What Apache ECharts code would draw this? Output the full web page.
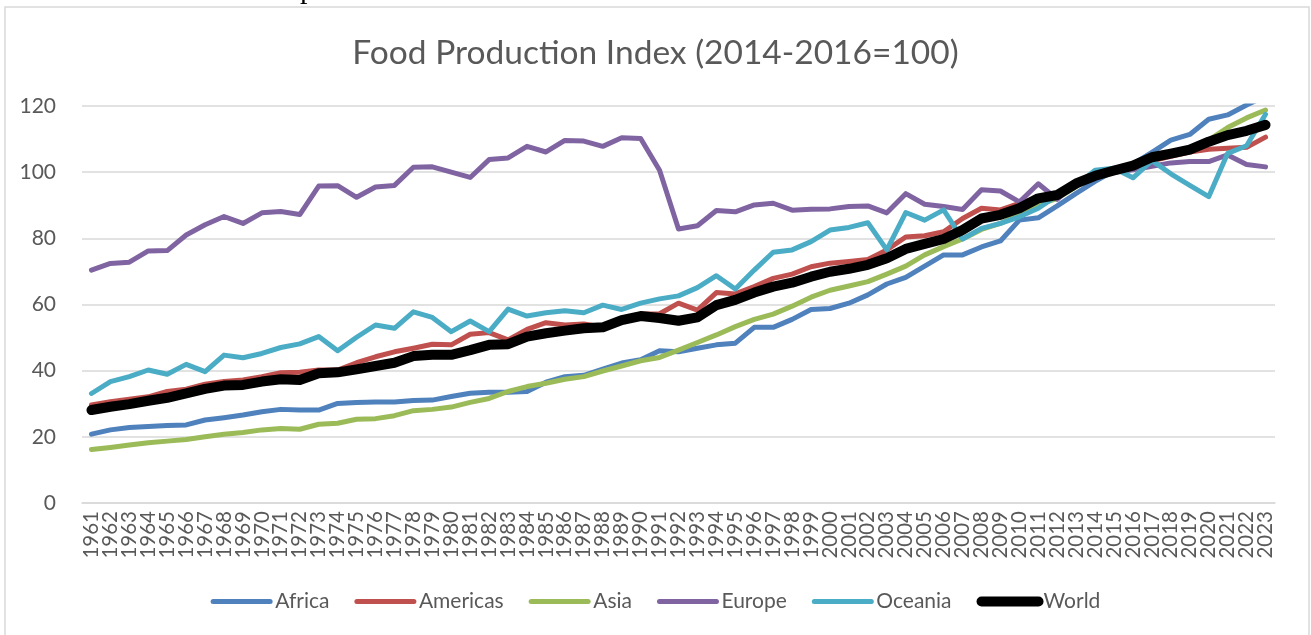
<!DOCTYPE html>
<html>
<head>
<meta charset="utf-8">
<script src="https://cdn.jsdelivr.net/npm/echarts@6/dist/echarts.min.js"></script>
<style>
html,body{margin:0;padding:0;background:#fff;}
#c{width:1311px;height:635px;}
</style>
</head>
<body>
<div id="c"></div>
<script>
const years = [];
for (let y = 1961; y <= 2023; y++) years.push(String(y));

const africa = [20.8,22.1,22.8,23.1,23.4,23.6,25.1,25.8,26.6,27.6,
28.3,28.1,28.1,30.1,30.4,30.5,30.5,31.0,31.1,32.2,
33.2,33.5,33.5,33.7,36.5,38.2,38.6,40.5,42.3,43.3,
46.0,45.7,46.8,47.8,48.3,53.1,53.1,55.5,58.5,58.8,
60.4,62.9,66.2,68.2,71.6,75.0,75.0,77.4,79.2,85.5,
86.2,89.8,93.6,97.2,100.4,102.4,106.0,109.7,111.4,116.0,
117.3,120.3,123.0];

const americas = [29.6,30.6,31.4,32.1,33.7,34.4,35.9,36.7,37.2,38.2,
39.4,39.5,40.2,40.2,42.4,44.2,45.7,46.8,48.0,47.8,
51.0,51.5,49.3,52.5,54.5,53.8,54.1,53.2,55.8,57.1,
57.2,60.4,58.3,63.6,63.2,65.4,67.9,69.2,71.4,72.5,
73.0,73.6,76.5,80.4,80.8,82.0,86.0,89.1,88.6,90.6,
92.4,93.5,96.3,98.8,100.0,101.3,103.4,104.8,106.1,106.9,
107.2,107.5,110.6];

const asia = [16.2,16.8,17.5,18.2,18.7,19.2,20.0,20.8,21.3,22.1,
22.5,22.3,23.8,24.1,25.3,25.5,26.4,27.9,28.3,29.0,
30.4,31.6,33.7,35.2,36.2,37.4,38.2,39.9,41.4,43.0,
44.0,46.2,48.5,50.8,53.3,55.5,57.1,59.5,62.2,64.3,
65.6,66.9,69.2,71.6,75.0,77.5,79.8,82.7,84.5,87.3,
90.1,92.1,95.6,99.0,100.4,101.8,104.0,105.6,107.2,109.7,
113.5,116.4,118.8];

const europe = [70.4,72.4,72.8,76.2,76.3,81.0,84.1,86.6,84.5,87.7,
88.1,87.2,95.8,95.9,92.4,95.5,96.0,101.5,101.6,100.0,
98.4,103.8,104.3,107.8,106.1,109.6,109.4,107.8,110.4,110.2,
100.6,82.8,83.8,88.4,88.0,90.1,90.6,88.5,88.8,88.9,
89.6,89.8,87.7,93.5,90.3,89.6,88.7,94.7,94.3,91.0,
96.5,91.8,97.0,99.3,100.0,100.7,101.8,102.8,103.2,103.2,
105.2,102.3,101.6];

const oceania = [33.1,36.7,38.2,40.2,38.9,41.9,39.7,44.7,43.9,45.2,
47.0,48.1,50.3,46.0,50.1,53.8,52.8,57.8,56.1,51.8,
55.0,51.8,58.6,56.5,57.5,58.1,57.5,59.8,58.5,60.4,
61.7,62.6,65.1,68.7,64.7,70.4,75.8,76.5,79.0,82.5,
83.3,84.7,76.5,87.8,85.5,88.6,79.8,83.0,84.5,86.5,
89.1,93.0,96.0,100.6,101.2,98.3,103.5,99.5,96.0,92.6,
105.7,108.0,117.5];

const world = [28.1,29.1,29.9,30.9,31.8,33.1,34.5,35.5,35.7,36.7,
37.4,37.2,39.2,39.5,40.4,41.4,42.4,44.4,44.8,44.8,
46.2,47.8,48.0,50.3,51.3,52.1,52.8,53.1,55.3,56.5,
55.9,55.1,56.1,59.8,61.4,63.6,65.4,66.6,68.4,69.9,
70.8,72.0,74.0,76.8,78.3,79.8,82.5,86.0,87.1,89.1,
92.1,93.1,96.6,98.9,100.5,102.0,104.5,105.6,106.8,109.2,
111.2,112.5,114.3];

const yTicks = { min: 0, max: 120, interval: 20 };
const titleText = 'Food Production Index (2014-2016=100)';

const seriesDefs = [
  { name: 'Africa', data: africa, color: '#4f81bd', width: 5 },
  { name: 'Americas', data: americas, color: '#c0504d', width: 5 },
  { name: 'Asia', data: asia, color: '#9bbb59', width: 5 },
  { name: 'Europe', data: europe, color: '#8064a2', width: 5 },
  { name: 'Oceania', data: oceania, color: '#4bacc6', width: 5 },
  { name: 'World', data: world, color: '#000000', width: 10 }
];

const FONT = 'Lato, Calibri, Carlito, sans-serif';
const TXT = '#595959';
const chart = echarts.init(document.getElementById('c'), null, { renderer: 'canvas' });
chart.setOption({
  animation: false,
  backgroundColor: '#ffffff',
  title: {
    text: titleText,
    left: 'center',
    top: 31,
    textStyle: { fontFamily: FONT, fontSize: 33.5, fontWeight: 'normal', color: TXT }
  },
  graphic: [
    { type: 'rect', shape: { x: 5, y: 7, width: 1304, height: 640 }, style: { fill: 'none', stroke: '#d9d9d9', lineWidth: 1.5 }, silent: true },
    { type: 'text', x: 300, y: -10, style: { text: 'p', font: '30px "Liberation Serif", serif', fill: '#000', verticalAlign: 'middle' }, silent: true }
  ],
  legend: {
    bottom: 18,
    left: 'center',
    itemWidth: 57,
    itemHeight: 12,
    itemGap: 25,
    lineStyle: { width: 'inherit', cap: 'round' },
    itemStyle: { opacity: 0 },
    textStyle: { fontFamily: FONT, fontSize: 21, color: TXT },
    data: seriesDefs.map(s => s.name)
  },
  grid: { left: 82, right: 36, top: 106, bottom: 132 },
  xAxis: {
    type: 'category',
    data: years,
    boundaryGap: true,
    axisLine: { lineStyle: { color: '#d9d9d9', width: 1.5 } },
    axisTick: { show: false },
    axisLabel: { interval: 0, rotate: 90, margin: 8, fontFamily: FONT, fontSize: 20.5, color: TXT }
  },
  yAxis: {
    type: 'value',
    min: yTicks.min, max: yTicks.max, interval: yTicks.interval,
    axisLine: { show: false },
    axisTick: { show: false },
    splitLine: { lineStyle: { color: '#d9d9d9', width: 1.5 } },
    axisLabel: { margin: 26, fontFamily: FONT, fontSize: 21, color: TXT }
  },
  series: seriesDefs.map(s => ({
    name: s.name,
    type: 'line',
    data: s.data,
    symbol: 'none',
    showSymbol: false,
    clip: true,
    color: s.color,
    lineStyle: { color: s.color, width: s.width, cap: 'round', join: 'round' },
    emphasis: { disabled: true }
  }))
});
</script>
</body>
</html>
